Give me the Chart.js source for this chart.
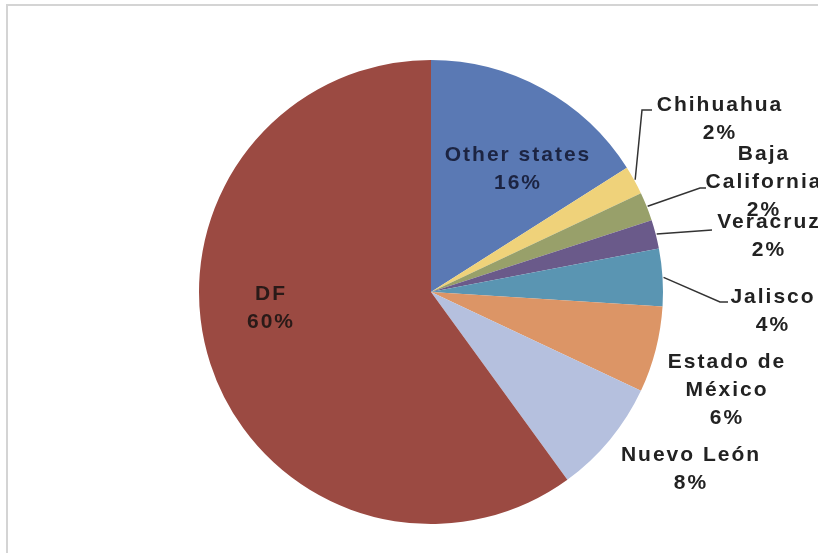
<!DOCTYPE html>
<html>
<head>
<meta charset="utf-8">
<script src="https://cdn.jsdelivr.net/npm/chart.js@4/dist/chart.umd.min.js"></script>
<style>
  html, body { margin: 0; padding: 0; background: #fff; }
  #wrap { position: relative; width: 818px; height: 553px; overflow: hidden; }
  #frame { position: absolute; left: 6px; top: 4px; width: 900px; height: 700px;
           border-top: 2px solid #d4d4d4; border-left: 2px solid #d4d4d4; }
  canvas { position: absolute; left: 0; top: 0; }
</style>
</head>
<body>
<div id="wrap">
  <div id="frame"></div>
  <canvas id="myChart" width="818" height="553"></canvas>
</div>
<script>
const states = ['Other states', 'Chihuahua', 'Baja California', 'Veracruz', 'Jalisco', 'Estado de México', 'Nuevo León', 'DF'];
const shares = [16, 2, 2, 2, 4, 6, 8, 60];
const colors = ['#5a79b4', '#efd27a', '#98a06a', '#6a5a8a', '#5a95b2', '#dc9566', '#b5c0de', '#9b4a42'];

// label text lines + placement of first line relative to pie centre (px), optional leader elbow
const labelLayout = [
  { lines: ['Other states', '16%'], dx: 86, dy: -137, color: '#1c2442' },
  { lines: ['Chihuahua', '2%'], dx: 288, dy: -187, leader: [[211, -182], [221, -182]] },
  { lines: ['Baja', 'California', '2%'], dx: 332, dy: -138, leader: [[269, -104], [275, -104]] },
  { lines: ['Veracruz', '2%'], dx: 337, dy: -70, leader: [[281, -62]] },
  { lines: ['Jalisco', '4%'], dx: 341, dy: 5, leader: [[289, 10], [297, 10]] },
  { lines: ['Estado de', 'México', '6%'], dx: 295, dy: 70 },
  { lines: ['Nuevo León', '8%'], dx: 259, dy: 163 },
  { lines: ['DF', '60%'], dx: -161, dy: 2, color: '#2a1a18' }
];

const sliceLabels = {
  id: 'sliceLabels',
  afterDatasetsDraw(chart) {
    const ctx = chart.ctx;
    const arcs = chart.getDatasetMeta(0).data;
    ctx.save();
    ctx.font = 'bold 21px "Liberation Sans", Arial, sans-serif';
    ctx.letterSpacing = '2px';
    ctx.textAlign = 'center';
    ctx.textBaseline = 'middle';
    arcs.forEach((arc, i) => {
      const p = arc.getProps(['x', 'y', 'startAngle', 'endAngle', 'outerRadius'], true);
      const lay = labelLayout[i];
      if (lay.leader) {
        const mid = (p.startAngle + p.endAngle) / 2;
        ctx.beginPath();
        ctx.strokeStyle = '#333';
        ctx.lineWidth = 1.5;
        ctx.moveTo(p.x + Math.cos(mid) * (p.outerRadius + 1), p.y + Math.sin(mid) * (p.outerRadius + 1));
        lay.leader.forEach(pt => ctx.lineTo(p.x + pt[0], p.y + pt[1]));
        ctx.stroke();
      }
      ctx.fillStyle = lay.color || '#222';
      const lh = 28;
      lay.lines.forEach((t, k) => {
        ctx.fillText(t, p.x + lay.dx + 1, p.y + lay.dy + k * lh);
      });
    });
    ctx.restore();
  }
};

new Chart(document.getElementById('myChart'), {
  type: 'pie',
  data: {
    labels: states,
    datasets: [{
      data: shares,
      backgroundColor: colors,
      borderWidth: 0
    }]
  },
  options: {
    responsive: false,
    animation: false,
    layout: {
      padding: { left: 199, right: 155, top: 60, bottom: 29 }
    },
    plugins: {
      legend: { display: false },
      tooltip: { enabled: false }
    }
  },
  plugins: [sliceLabels]
});
</script>
</body>
</html>
